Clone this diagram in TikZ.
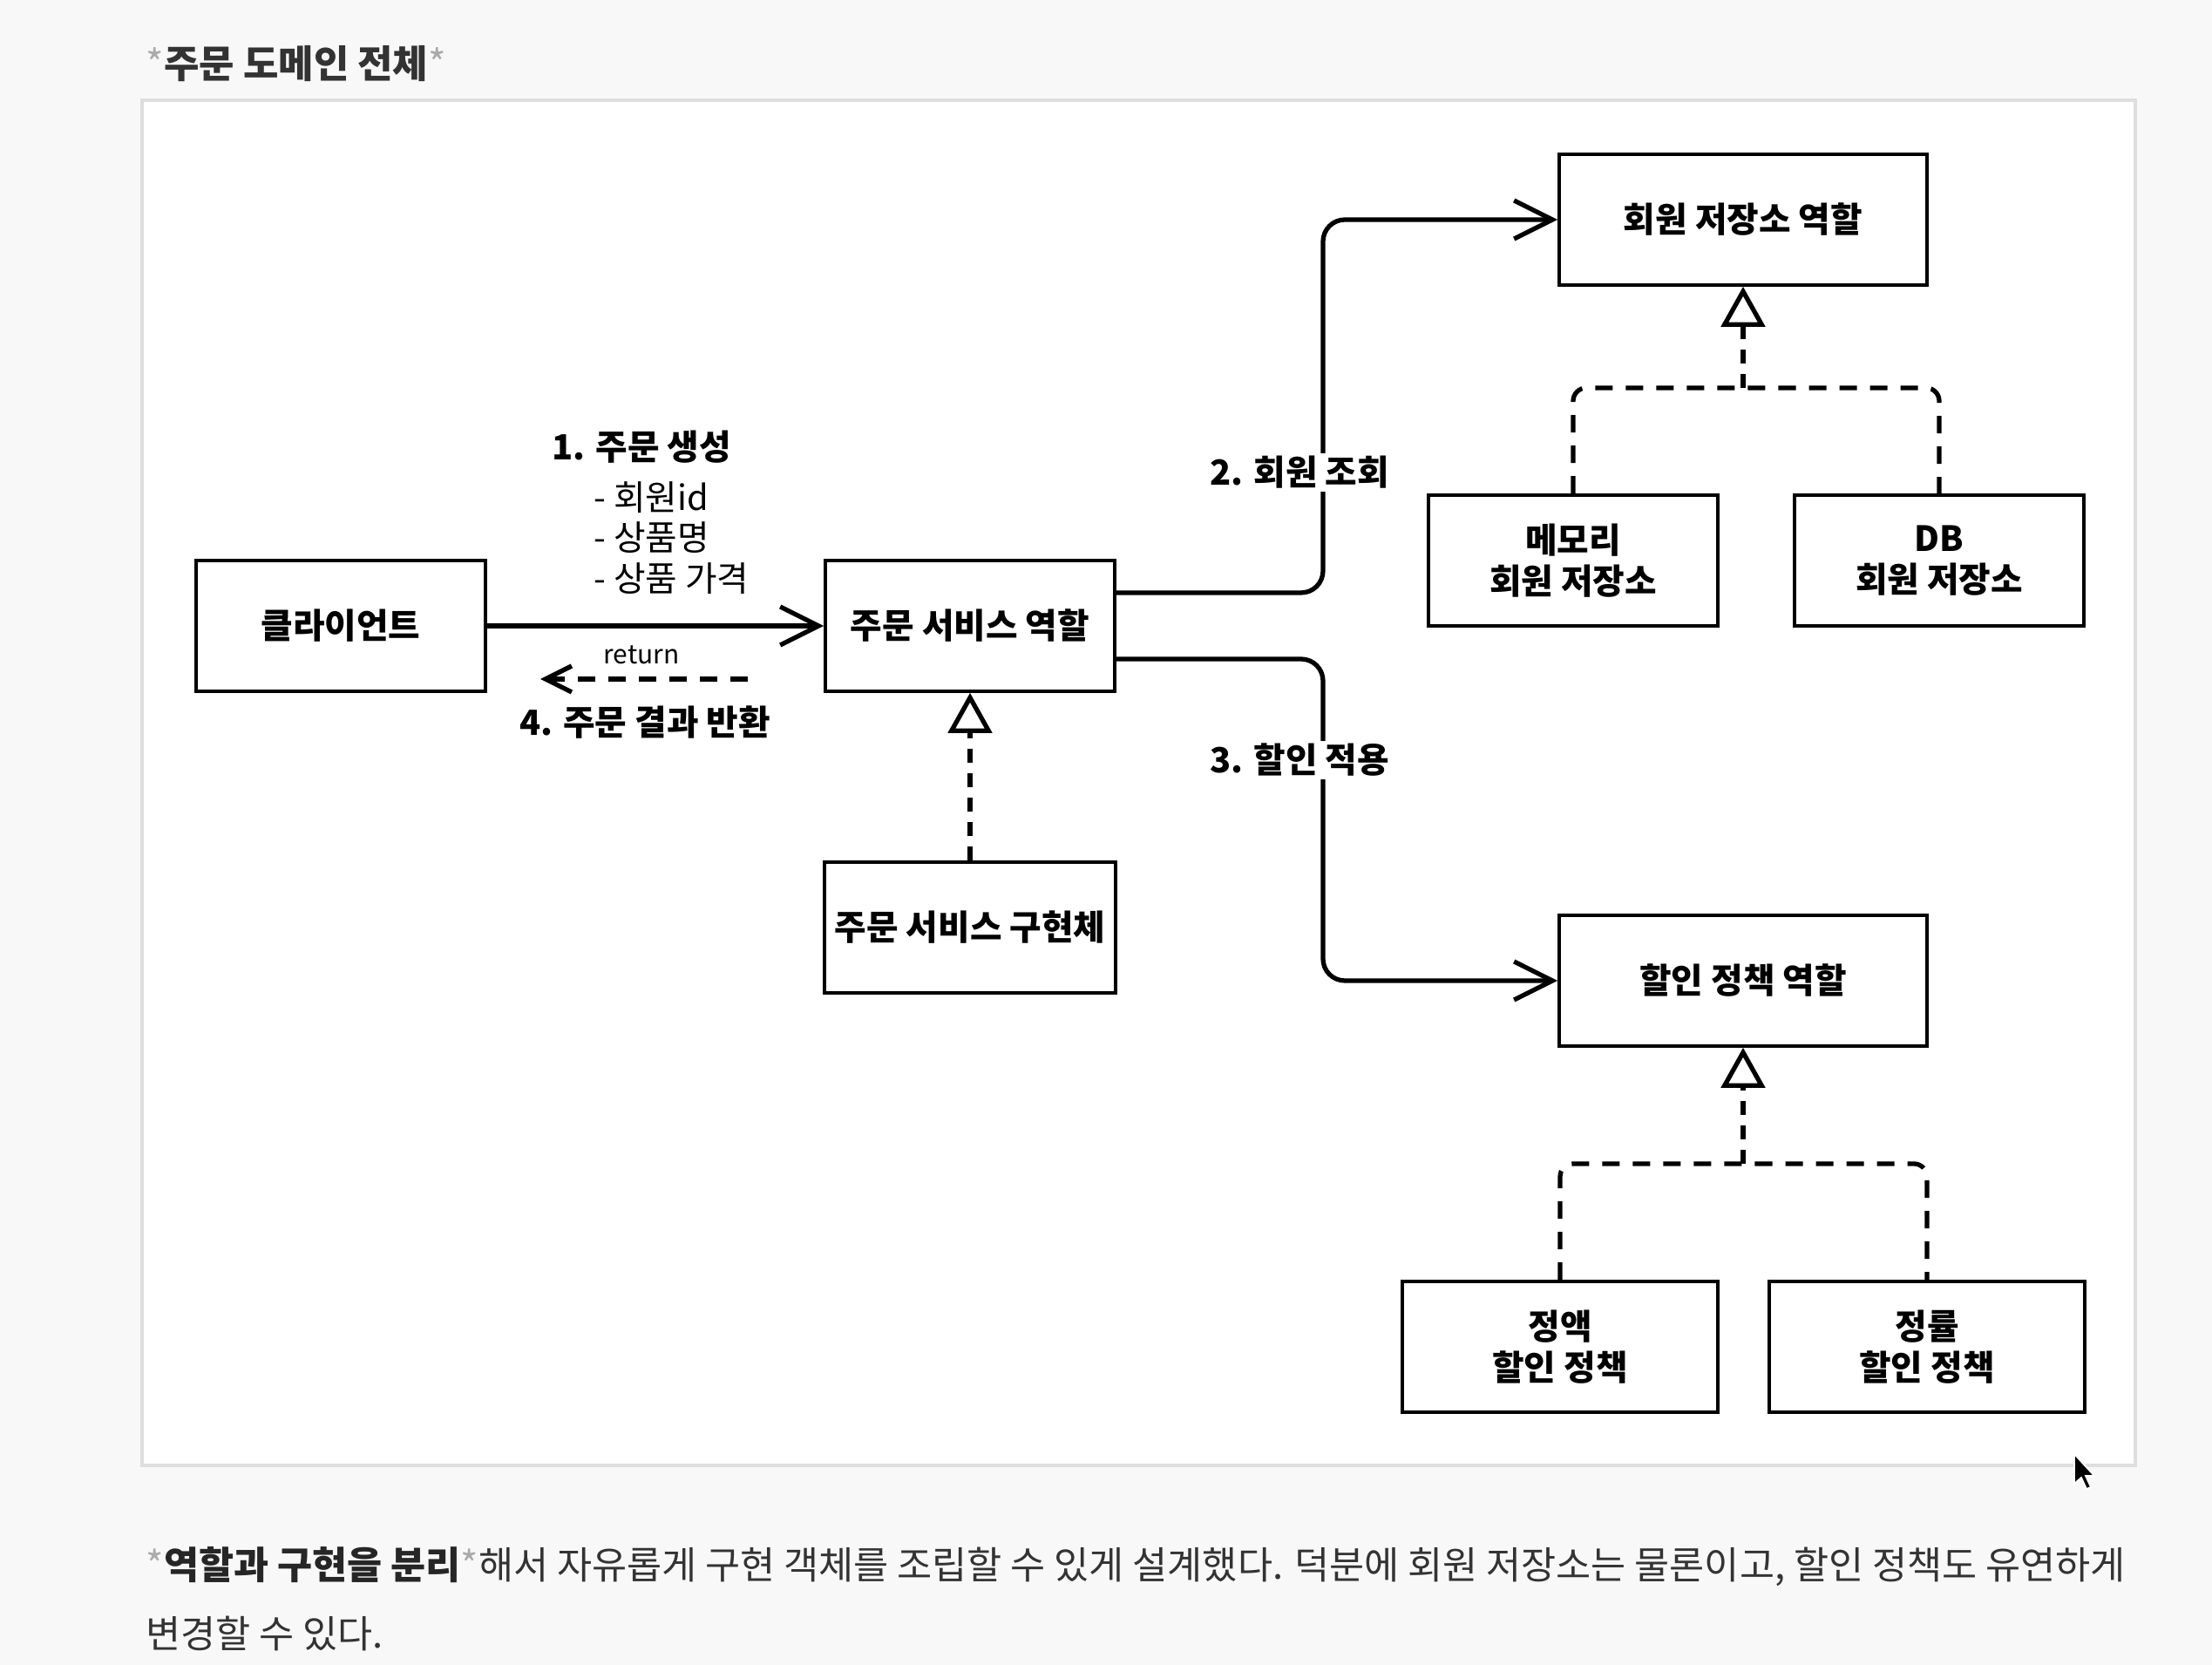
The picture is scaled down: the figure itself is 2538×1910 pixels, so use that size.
\documentclass[tikz,border=0pt]{standalone}
\usepackage{fontspec}
\setmainfont{Noto Sans CJK KR}
\usetikzlibrary{arrows.meta,positioning}
\definecolor{pageBg}{RGB}{248,248,248}
\definecolor{fGray}{RGB}{222,222,222}
\definecolor{tGray}{RGB}{51,51,51}
\definecolor{sGray}{RGB}{170,170,170}

\begin{document}
\begin{tikzpicture}[x=0.01cm,y=-0.01cm,font=\fontsize{11.3}{13.3}\selectfont,
  box/.style={draw,line width=1pt,fill=white,minimum width=3.32cm,minimum height=1.5cm,align=center,font=\fontsize{11.3}{13.3}\selectfont\bfseries},
  lbl/.style={font=\fontsize{11.3}{13.3}\selectfont\bfseries,inner sep=1pt},
  flow/.style={line width=1.5pt,-{Straight Barb[length=4.4mm,width=4.4mm]}},
  ret/.style={line width=1.5pt,dash pattern=on 2mm off 1.5mm,-{Straight Barb[length=3mm,width=3mm]}},
  impl/.style={line width=1.5pt,dash pattern=on 1.6mm off 1.2mm,-{Triangle[fill=white,length=4.6mm,width=5mm]}},
  real/.style={line width=1.5pt,dash pattern=on 2mm off 1.5mm,rounded corners=1.5mm}]
  \fill[pageBg] (0,0) rectangle (2538,1910);
  \useasboundingbox (0,0) rectangle (2538,1910);
  \draw[fGray,fill=white,line width=1pt] (163,115) rectangle (2450,1681);
  \node[anchor=west,inner sep=0,text=tGray,font=\fontsize{12.5}{16}\selectfont\bfseries] (ttl) at (167,73) {\textcolor{sGray}{\mdseries *}주문 도메인 전체\textcolor{sGray}{\mdseries *}};
  \node[box] (cli) at (391,718) {클라이언트};
  \node[box] (srv) at (1113,718) {주문 서비스 역할};
  \node[box] (srvi) at (1113,1064) {주문 서비스 구현체};
  \node[box,minimum width=4.22cm] (mr) at (2000,252) {회원 저장소 역할};
  \node[box] (mm) at (1805,643) {메모리\\회원 저장소};
  \node[box] (mdb) at (2225,643) {DB\\회원 저장소};
  \node[box,minimum width=4.22cm] (dr) at (2000,1125) {할인 정책 역할};
  \node[box,minimum width=3.62cm] (dfix) at (1790,1545) {정액\\할인 정책};
  \node[box,minimum width=3.62cm] (drate) at (2211,1545) {정률\\할인 정책};
  \coordinate (bus) at (1518,718);
  \coordinate (mj) at (2000,445);
  \coordinate (dj) at (2000,1335);
  \coordinate (rs) at (858,779);
  \coordinate (re) at (620,779);
  \draw[flow] (cli) -- (srv);
  \draw[flow,rounded corners=2.5mm] ([yshift=3.8mm]srv.east) -| (bus |- mr.west) -- (mr.west);
  \draw[flow,rounded corners=2.5mm] ([yshift=-3.8mm]srv.east) -| (bus |- dr.west) -- (dr.west);
  \draw[ret] (rs) -- (re);
  \draw[impl] (srvi) -- (srv);
  \draw[real] (mm.north) |- (mj) -| (mdb.north);
  \draw[impl] (mj) -- (mr);
  \draw[real] (dfix.north) |- (dj) -| (drate.north);
  \draw[impl] (dj) -- (dr);
  \node[lbl,fill=white] (l2) at (1491,542) {2. 회원 조회};
  \node[lbl,fill=white] (l3) at (1491,872) {3. 할인 적용};
  \node[lbl,anchor=west] (l1) at (629,513) {1. 주문 생성};
  \node[anchor=west,align=left,inner sep=0] (args) at (681,617) {- 회원id\\- 상품명\\- 상품 가격};
  \node[font=\fontsize{8.5}{10}\selectfont] (rt) at (736,751) {return};
  \node[lbl] (l4) at (740,829) {4. 주문 결과 반환};
  \fill[black,draw=white,line width=0.5pt] (2380,1668) -- (2380,1702) -- (2388,1695) -- (2394,1708) -- (2399,1706) -- (2393,1693) -- (2403,1693) -- cycle;
  \node[anchor=west,inner sep=0,text=tGray,font=\fontsize{12.4}{14}\selectfont] (p1) at (167,1797) {\textcolor{sGray}{*}\textcolor{black!85}{\bfseries 역할과 구현을 분리}\textcolor{sGray}{*}해서 자유롭게 구현 객체를 조립할 수 있게 설계했다. 덕분에 회원 저장소는 물론이고, 할인 정책도 유연하게};
  \node[anchor=west,inner sep=0,text=tGray,font=\fontsize{12.4}{14}\selectfont] (p2) at (167,1874) {변경할 수 있다.};
\end{tikzpicture}
\end{document}
